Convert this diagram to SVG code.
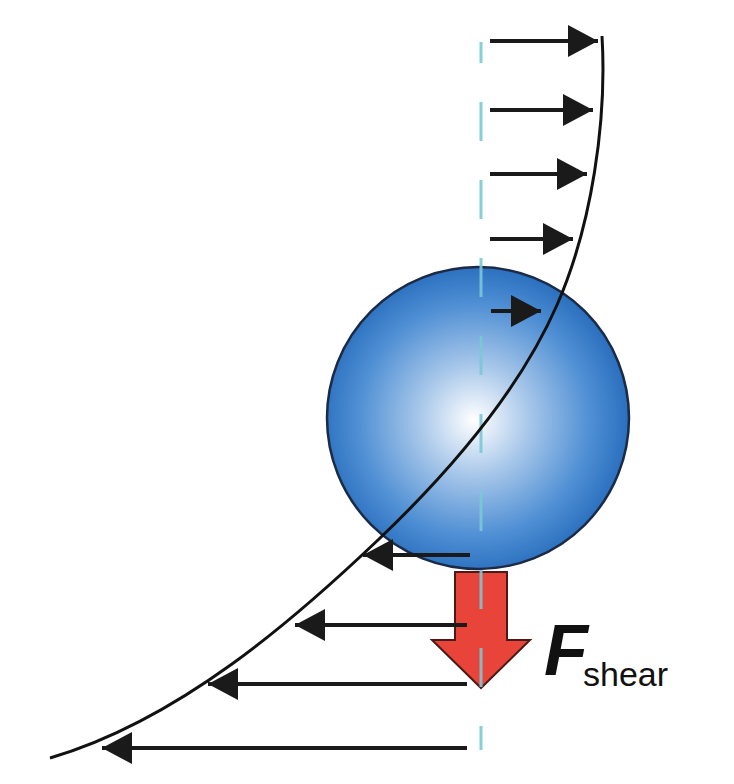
<svg xmlns="http://www.w3.org/2000/svg" width="734" height="784" viewBox="0 0 734 784">
<defs>
<radialGradient id="sph" cx="474" cy="420" r="155" gradientUnits="userSpaceOnUse">
<stop offset="0" stop-color="#ffffff"/>
<stop offset="0.35" stop-color="#a9c8ea"/>
<stop offset="0.75" stop-color="#4f8fd4"/>
<stop offset="1" stop-color="#2a6fbe"/>
</radialGradient>
<marker id="ah" viewBox="0 0 30 32" refX="30" refY="16" markerWidth="30" markerHeight="32" markerUnits="userSpaceOnUse" orient="auto">
<path d="M0,0 L30,16 L0,32 Z" fill="#1a1a1a"/>
</marker>
<style>
.vel{stroke:#1a1a1a;stroke-width:4;fill:none;marker-end:url(#ah)}
.prof{stroke:#111;stroke-width:3;fill:none}
.axis{stroke:#7cc8d6;stroke-width:3;stroke-dasharray:39 39;stroke-dashoffset:18;opacity:0.9}
</style>
</defs>
<rect width="734" height="784" fill="#ffffff"/>
<g id="sphere">
<circle cx="478" cy="418" r="151" fill="url(#sph)" stroke="#1b2b45" stroke-width="2.5"/>
</g>
<g id="force">
<path d="M455,572 L507,572 L507,640 L530,640 L481,688 L432,640 L455,640 Z" fill="#e8443a" stroke="#4a1a16" stroke-width="2" stroke-linejoin="miter"/>
</g>
<g id="axis">
<line class="axis" x1="481" y1="42" x2="481" y2="750"/>
</g>
<g id="profile">
<path class="prof" d="M602,36 C607,120 592,225 557,305 C522,385 460,462 378,540 C296,618 180,720 50,758"/>
</g>
<g id="connectors">
<line class="vel" x1="490" y1="41" x2="598" y2="41"/>
<line class="vel" x1="490" y1="110" x2="593" y2="110"/>
<line class="vel" x1="490" y1="174" x2="587" y2="174"/>
<line class="vel" x1="490" y1="239" x2="573" y2="239"/>
<line class="vel" x1="491" y1="311" x2="541" y2="311"/>
<line class="vel" x1="470" y1="555" x2="363" y2="555"/>
<line class="vel" x1="467" y1="625" x2="295" y2="625"/>
<line class="vel" x1="467" y1="684" x2="208" y2="684"/>
<line class="vel" x1="467" y1="748" x2="102" y2="748"/>
</g>
<g id="label">
<text x="544" y="675" font-family="Liberation Sans, Arial, sans-serif" font-weight="bold" font-style="italic" font-size="72" fill="#111">F</text>
<text x="583" y="686" font-family="Liberation Sans, Arial, sans-serif" font-size="34" fill="#111">shear</text>
</g>
</svg>
